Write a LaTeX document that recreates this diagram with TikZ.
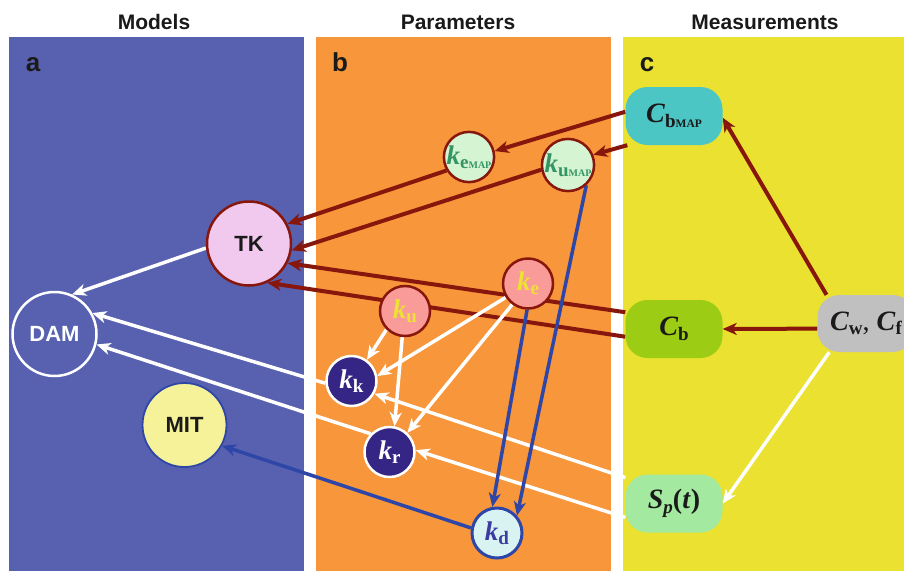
\documentclass[tikz,border=0pt]{standalone}
\usepackage{fontspec}
\setmainfont{Liberation Serif}
\setsansfont{Liberation Sans}
\usetikzlibrary{arrows.meta}

\definecolor{panelA}{RGB}{88,97,176}
\definecolor{panelB}{RGB}{247,150,58}
\definecolor{panelC}{RGB}{234,225,48}
\definecolor{darkred}{RGB}{135,22,12}
\definecolor{linkblue}{RGB}{46,70,168}
\definecolor{tkfill}{RGB}{241,200,238}
\definecolor{mapfill}{RGB}{212,244,210}
\definecolor{mapgreen}{RGB}{52,150,100}
\definecolor{salmon}{RGB}{249,155,152}
\definecolor{yellowtxt}{RGB}{236,226,50}
\definecolor{indigo}{RGB}{53,37,133}
\definecolor{kdfill}{RGB}{217,243,243}
\definecolor{kdtext}{RGB}{60,60,160}
\definecolor{mitfill}{RGB}{245,242,153}
\definecolor{cyanbox}{RGB}{76,198,197}
\definecolor{limebox}{RGB}{156,204,19}
\definecolor{greybox}{RGB}{192,192,192}
\definecolor{mintbox}{RGB}{163,233,160}
\definecolor{inkc}{RGB}{26,26,26}

% symbols: bold italic letter with bold upright subscript
\newcommand{\ksym}[1]{\textbf{\textit{k}}\raisebox{-0.35ex}{\fontsize{19}{19}\selectfont\bfseries #1}}
\newcommand{\csym}[1]{\textbf{\textit{C}}\raisebox{-0.35ex}{\fontsize{19}{19}\selectfont\bfseries #1}}
\newcommand{\mapsub}{{\fontsize{10}{10}\selectfont MAP}}

\pgfdeclarelayer{panels}
\pgfdeclarelayer{links}
\pgfsetlayers{panels,links,main}

\begin{document}
\begin{tikzpicture}[
    % GLOBAL CFG
    x=1pt, y=-1pt,
    >={Stealth[length=14pt,width=12pt,inset=4pt]},
    % Styles
    header/.style={% For the column titles
        font=\sffamily\bfseries\fontsize{21}{21}\selectfont,
        text=inkc,
        anchor=base,
        },
    letter/.style={% For the panel letters
        font=\sffamily\bfseries\fontsize{26}{26}\selectfont,
        text=inkc,
        anchor=base,
        },
    model/.style={% For the big circles
        circle,
        minimum size=84pt,
        inner sep=0pt,
        line width=2.5pt,
        font=\sffamily\bfseries\fontsize{22}{22}\selectfont,
        },
    param/.style={% For the small circles
        circle,
        minimum size=50pt,
        inner sep=0pt,
        line width=2.5pt,
        font=\fontsize{27}{27}\selectfont,
        },
    meas/.style={% For the measurement boxes
        rectangle,
        rounded corners=22pt,
        minimum width=97pt,
        minimum height=58pt,
        inner sep=0pt,
        text=inkc,
        font=\fontsize{28}{28}\selectfont,
        },
    redlink/.style={% Dark red arrows
        ->,
        draw=darkred,
        line width=4pt,
        },
    whitelink/.style={% White arrows
        ->,
        draw=white,
        line width=3.5pt,
        },
    bluelink/.style={% Blue arrows
        ->,
        draw=linkblue,
        line width=3.5pt,
        },
    ]

\useasboundingbox (0,0) rectangle (904,571);

% Draw the panels:
\begin{pgfonlayer}{panels}
    \fill[white] (0,0) rectangle (904,571);
    \fill[panelA] (9,37) rectangle (304,571);
    \fill[panelB] (316,37) rectangle (611,571);
    \fill[panelC] (623,37) rectangle (904,571);
\end{pgfonlayer}

    \node[header] (hA) at (154,29) {Models};
    \node[header] (hB) at (458,29) {Parameters};
    \node[header] (hC) at (765,29) {Measurements};

    \node[letter] (la) at (33,71) {a};
    \node[letter] (lb) at (340,71) {b};
    \node[letter] (lc) at (647,71) {c};

    % Models
    \node[model, draw=darkred, fill=tkfill, text=inkc] (TK) at (249,243.5) {TK};
    \node[model, draw=white, text=white] (DAM) at (54.5,334) {DAM};
    \node[model, draw=linkblue, fill=mitfill, text=inkc, line width=1.8pt] (MIT) at (184.5,425) {MIT};

    % Parameters
    \node[param, draw=darkred, fill=mapfill, text=mapgreen] (kemap) at (469,157) {\ksym{e\mapsub}};
    \node[param, draw=darkred, fill=mapfill, text=mapgreen] (kumap) at (568,165) {\ksym{u\mapsub}};
    \node[param, draw=darkred, fill=salmon, text=yellowtxt] (ke) at (528,283.5) {\ksym{e}};
    \node[param, draw=darkred, fill=salmon, text=yellowtxt] (ku) at (405,311) {\ksym{u}};
    \node[param, draw=white, fill=indigo, text=white] (kk) at (351.5,381) {\ksym{k}};
    \node[param, draw=white, fill=indigo, text=white] (kr) at (389.5,452) {\ksym{r}};
    \node[param, draw=linkblue, fill=kdfill, text=kdtext, line width=3pt] (kd) at (497,533) {\ksym{d}};

    % Measurements
    \node[meas, fill=cyanbox] (CbMAP) at (674,116) {\csym{b{\fontsize{11.5}{11.5}\selectfont MAP}}};
    \node[meas, fill=limebox] (Cb) at (674,329) {\csym{b}};
    \node[meas, fill=greybox, minimum height=57pt] (Cwf) at (866,323.5) {\csym{w}, \csym{f}\hspace{7pt}};
    \node[meas, fill=mintbox] (Sp) at (674,503.5)
        {\textbf{\textit{S}}\raisebox{-0.35ex}{\fontsize{19}{19}\selectfont\bfseries\itshape p}\textbf{(\textit{t})}};

% Start connecting all.
\begin{pgfonlayer}{links}
    % dark red
    \draw[redlink] (CbMAP.175) -- (kemap.13);
    \draw[redlink] (CbMAP.212) -- (kumap.22);
    \draw[redlink] (kemap.211) -- (TK.27);
    \draw[redlink] (kumap.190) -- (TK.351);
    \draw[redlink] (Cb.161) -- (TK.333);
    \draw[redlink] (Cb.189) -- (TK.295);
    \draw[redlink] (Cwf.144) -- (CbMAP.358);
    \draw[redlink] (Cwf.186) -- (Cb.east);

    % white
    \draw[whitelink] (TK.186) -- (DAM.66);
    \draw[whitelink] (kk.185) -- (DAM.29);
    \draw[whitelink] (kr.136) -- (DAM.346);
    \draw[whitelink] (Sp.152) -- (kk.331);
    \draw[whitelink] (Sp.196) -- (kr.4);
    \draw[whitelink] (ku.225) -- (kk.54);
    \draw[whitelink] (ku.264) -- (kr.79);
    \draw[whitelink] (ke.212) -- (kk.11);
    \draw[whitelink] (ke.233) -- (kr.47);
    \draw[whitelink] (Cwf.218) -- (Sp.east);

    % blue
    \draw[bluelink] (ke.268) -- (kd.100);
    \draw[bluelink] (kumap.312) -- (kd.41);
    \draw[bluelink] (kd.169) -- (MIT.331);
\end{pgfonlayer}

\end{tikzpicture}
\end{document}
